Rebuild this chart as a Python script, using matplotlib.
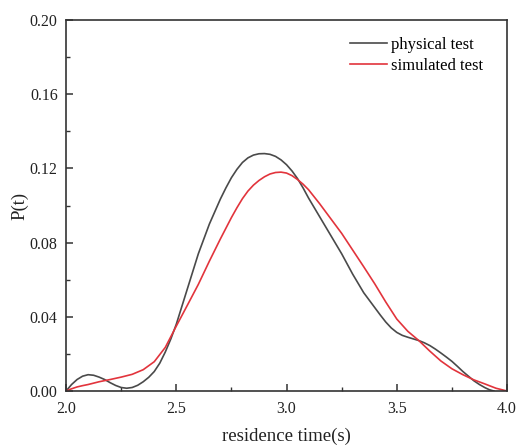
import matplotlib
matplotlib.use("Agg")
import matplotlib.pyplot as plt
from matplotlib.ticker import MultipleLocator, FormatStrFormatter

# values
t_phys = [2.000, 2.025, 2.050, 2.075, 2.100, 2.125, 2.150, 2.175, 2.200, 2.225, 2.250, 2.275,
          2.300, 2.325, 2.350, 2.375, 2.400, 2.425, 2.450, 2.475, 2.500, 2.550, 2.600, 2.650,
          2.700, 2.725, 2.750, 2.775, 2.800, 2.825, 2.850, 2.875, 2.900, 2.925, 2.950, 2.975,
          3.000, 3.025, 3.050, 3.075, 3.100, 3.150, 3.200, 3.250, 3.300, 3.350, 3.400, 3.425,
          3.450, 3.475, 3.500, 3.525, 3.550, 3.575, 3.600, 3.625, 3.650, 3.675, 3.700, 3.725,
          3.750, 3.775, 3.800, 3.825, 3.850, 3.875, 3.900, 3.920, 3.940]
p_phys = [0.0000, 0.0035, 0.0062, 0.0080, 0.0088, 0.0085, 0.0075, 0.0062, 0.0045, 0.0030, 0.0019, 0.0015,
          0.0019, 0.0031, 0.0050, 0.0074, 0.0105, 0.0150, 0.0210, 0.0280, 0.0360, 0.0550, 0.0740, 0.0900,
          0.1035, 0.1095, 0.1150, 0.1195, 0.1232, 0.1257, 0.1272, 0.1279, 0.1280, 0.1276, 0.1265, 0.1246,
          0.1220, 0.1186, 0.1145, 0.1095, 0.1040, 0.0940, 0.0840, 0.0740, 0.0630, 0.0530, 0.0450, 0.0410,
          0.0372, 0.0340, 0.0316, 0.0300, 0.0290, 0.0281, 0.0272, 0.0260, 0.0245, 0.0226, 0.0205, 0.0183,
          0.0160, 0.0133, 0.0105, 0.0080, 0.0055, 0.0035, 0.0018, 0.0007, 0.0000]

t_sim = [2.000, 2.025, 2.050, 2.075, 2.100, 2.150, 2.200, 2.250, 2.300, 2.350, 2.400, 2.450,
         2.500, 2.550, 2.600, 2.650, 2.700, 2.750, 2.775, 2.800, 2.825, 2.850, 2.875, 2.900,
         2.925, 2.950, 2.975, 3.000, 3.025, 3.050, 3.075, 3.100, 3.150, 3.200, 3.250, 3.300,
         3.350, 3.400, 3.450, 3.500, 3.550, 3.600, 3.650, 3.700, 3.750, 3.800, 3.850, 3.900,
         3.950, 4.000]
p_sim = [0.0000, 0.0012, 0.0022, 0.0029, 0.0035, 0.0050, 0.0062, 0.0075, 0.0090, 0.0115, 0.0158, 0.0235,
         0.0350, 0.0462, 0.0575, 0.0700, 0.0820, 0.0935, 0.0988, 0.1037, 0.1078, 0.1110, 0.1135, 0.1155,
         0.1170, 0.1178, 0.1180, 0.1175, 0.1161, 0.1140, 0.1115, 0.1085, 0.1010, 0.0930, 0.0850, 0.0760,
         0.0670, 0.0578, 0.0480, 0.0388, 0.0322, 0.0272, 0.0215, 0.0162, 0.0120, 0.0088, 0.0060, 0.0038,
         0.0015, 0.0000]

plt.rcParams['font.family'] = ['Liberation Serif', 'DejaVu Serif']

fig = plt.figure(figsize=(5.16, 4.45), dpi=100)
ax = fig.add_axes([0.128, 0.1213, 0.8546, 0.8337])

ax.plot(t_phys, p_phys, color='#4a4a4a', lw=1.2, label='physical test')
ax.plot(t_sim, p_sim, color='#e2343c', lw=1.2, label='simulated test')

ax.set_xlim(2.0, 4.0)
ax.set_ylim(0.0, 0.20)
ax.xaxis.set_major_locator(MultipleLocator(0.5))
ax.xaxis.set_minor_locator(MultipleLocator(0.25))
ax.yaxis.set_major_locator(MultipleLocator(0.04))
ax.yaxis.set_minor_locator(MultipleLocator(0.02))
ax.xaxis.set_major_formatter(FormatStrFormatter('%.1f'))
ax.yaxis.set_major_formatter(FormatStrFormatter('%.2f'))

ax.tick_params(which='both', direction='in', top=False, right=False,
               colors='#333333', labelcolor='#222222', labelsize=11.5)
ax.tick_params(which='major', length=5, width=1.1)
ax.tick_params(which='minor', length=3, width=1.0)
ax.tick_params(axis='x', which='major', pad=7)
ax.tick_params(axis='y', which='major', pad=6)
for s in ax.spines.values():
    s.set_color('#333333')
    s.set_linewidth(1.2)

ax.set_xlabel('residence time(s)', fontsize=13.5, color='#222222', labelpad=8)
ax.set_ylabel('P(t)', fontsize=13.5, color='#222222', labelpad=1)

ax.legend(loc='upper right', bbox_to_anchor=(0.984, 1.0), frameon=False, fontsize=12,
          handlelength=2.2, handletextpad=0.25, labelspacing=0.3, borderaxespad=0.6)

fig.savefig('out.png', dpi=100)
